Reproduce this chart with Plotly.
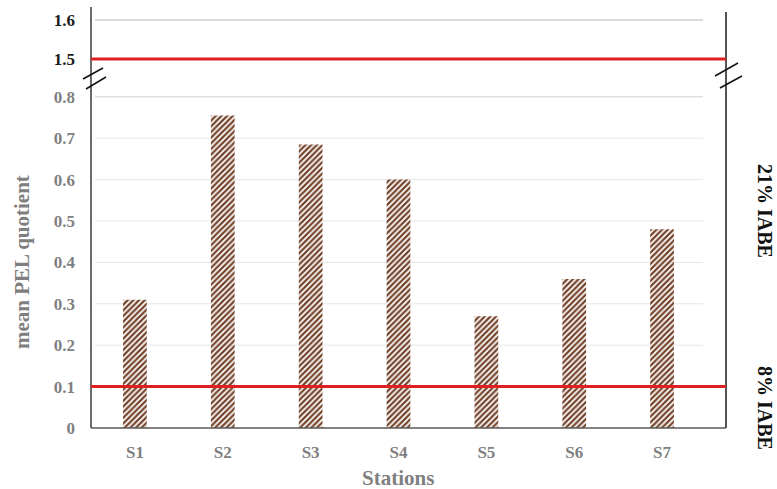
import plotly.graph_objects as go

stations = ["S1", "S2", "S3", "S4", "S5", "S6", "S7"]
pel_quotient = [0.31, 0.755, 0.685, 0.60, 0.27, 0.36, 0.48]
iabe_21 = 1.5
iabe_8 = 0.1
bottom_ticks = [0, 0.1, 0.2, 0.3, 0.4, 0.5, 0.6, 0.7, 0.8]
top_ticks = [1.5, 1.6]

W, H = 777, 489
L, R, T, B = 91, 71, 8, 61
PW, PH = W - L - R, H - T - B

def px(x):
    return (x - L) / PW

def py(y):
    return (H - B - y) / PH

SERIF = "Liberation Serif, Times New Roman, serif"
GRAY = "#7f7f7f"

fig = go.Figure()
fig.add_trace(go.Bar(
    x=stations, y=pel_quotient, width=0.27,
    marker=dict(color="#74432a", line=dict(width=0),
                pattern=dict(shape="/", fillmode="replace", bgcolor="white",
                             fgcolor="#74432a", size=4, solidity=0.55)),
    showlegend=False,
))
fig.add_trace(go.Scatter(x=stations, y=[iabe_21] * len(stations), yaxis="y2",
                         mode="lines", line=dict(width=0), opacity=0,
                         showlegend=False, hoverinfo="skip"))

right_x = px(726)
shapes = []
for v in bottom_ticks[1:]:
    shapes.append(dict(type="line", xref="paper", yref="y", x0=px(95), x1=px(703),
                       y0=v, y1=v, line=dict(color="#e6e6e6" if v < 0.8 else "#d0d0d0", width=1), layer="below"))
shapes.append(dict(type="line", xref="paper", yref="y2", x0=px(95), x1=px(703),
                   y0=1.6, y1=1.6, line=dict(color="#cfcfcf", width=1.5), layer="below"))
shapes.append(dict(type="line", xref="paper", yref="paper", x0=0, x1=0, y0=0, y1=py(7),
                   line=dict(color="#3a3a3a", width=1.5)))
shapes.append(dict(type="line", xref="paper", yref="paper", x0=right_x, x1=right_x, y0=0, y1=py(12),
                   line=dict(color="#1a1a1a", width=1.5)))
shapes.append(dict(type="line", xref="paper", yref="paper", x0=0, x1=right_x, y0=0, y1=0,
                   line=dict(color="#595959", width=1.5)))
shapes.append(dict(type="line", xref="paper", yref="y", x0=0, x1=right_x, y0=iabe_8, y1=iabe_8,
                   line=dict(color="#e02020", width=3)))
shapes.append(dict(type="line", xref="paper", yref="y2", x0=0, x1=right_x, y0=iabe_21, y1=iabe_21,
                   line=dict(color="#e02020", width=3)))
for (x0, y0, x1, y1) in [(83, 79, 103, 68), (86, 89, 106, 77), (715, 76, 738, 63), (720, 88, 742, 76)]:
    shapes.append(dict(type="line", xref="paper", yref="paper", x0=px(x0), y0=py(y0), x1=px(x1), y1=py(y1),
                       line=dict(color="#111111", width=1.5)))

annotations = [
    dict(text="<b>mean PEL quotient</b>", xref="paper", yref="paper", x=px(22), y=py(262),
         textangle=-90, showarrow=False, font=dict(family=SERIF, size=21, color=GRAY),
         xanchor="center", yanchor="middle"),
    dict(text="<b>Stations</b>", xref="paper", yref="paper", x=px(398), y=py(478),
         showarrow=False, font=dict(family=SERIF, size=21, color=GRAY),
         xanchor="center", yanchor="middle"),
    dict(text="<b>21% IABE</b>", xref="paper", yref="paper", x=px(765), y=py(211),
         textangle=90, showarrow=False, font=dict(family=SERIF, size=20, color="#111111"),
         xanchor="center", yanchor="middle"),
    dict(text="<b>8% IABE</b>", xref="paper", yref="paper", x=px(765), y=py(408),
         textangle=90, showarrow=False, font=dict(family=SERIF, size=20, color="#111111"),
         xanchor="center", yanchor="middle"),
]

bottom_top = (428 - 88) / 41.4 / 10
fig.update_layout(
    width=W, height=H, margin=dict(l=L, r=R, t=T, b=B),
    paper_bgcolor="white", plot_bgcolor="white",
    showlegend=False,
    xaxis=dict(type="category", categoryorder="array", categoryarray=stations, range=[-0.5, 6.5],
               showgrid=False, showline=False, zeroline=False, ticks="",
               ticklabelstandoff=12,
               tickfont=dict(family=SERIF, size=17, color=GRAY),
               tickprefix="<b>", ticksuffix="</b>"),
    yaxis=dict(domain=[0, py(88)], range=[0, bottom_top], tickvals=bottom_ticks,
               ticktext=["<b>%g</b>" % v for v in bottom_ticks],
               showgrid=False, zeroline=False, showline=False, ticks="", ticklabelstandoff=15,
               tickfont=dict(family=SERIF, size=17, color=GRAY)),
    yaxis2=dict(domain=[py(66), 1], range=[1.5 - 7 / 390, 1.6 + 12 / 390], anchor="x",
                tickvals=top_ticks, ticktext=["<b>%g</b>" % v for v in top_ticks],
                showgrid=False, zeroline=False, showline=False, ticks="", ticklabelstandoff=15,
                tickfont=dict(family=SERIF, size=17, color="#1a1a1a")),
    shapes=shapes, annotations=annotations,
)
fig.write_html("out.html", config={"displayModeBar": False},
               post_script="document.body.style.margin='0px';")
